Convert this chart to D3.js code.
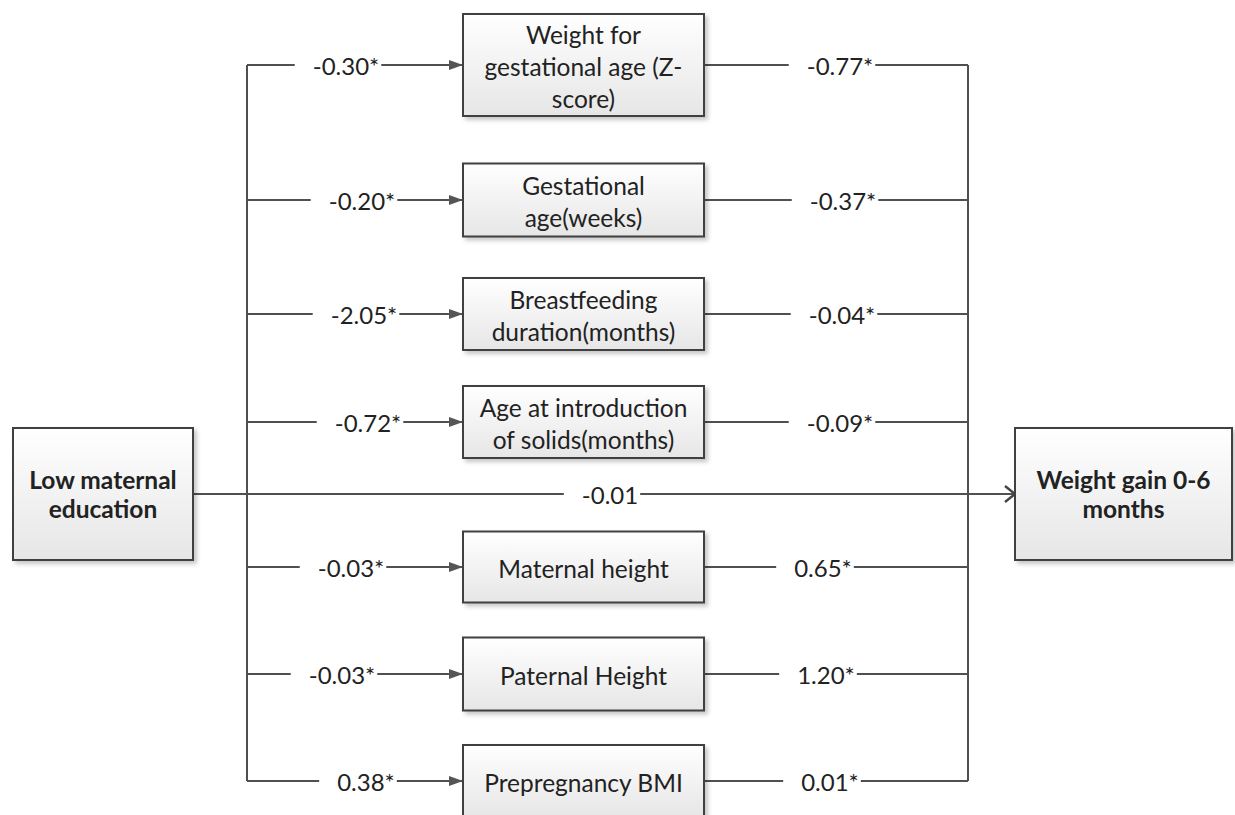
<!DOCTYPE html>
<html>
<head>
<meta charset="utf-8">
<script src="https://cdn.jsdelivr.net/npm/d3@7"></script>
<style>
  html, body { margin: 0; padding: 0; background: #fff; }
  svg { display: block; }
  text { font-family: Lato, "Open Sans", sans-serif; fill: #222; }
</style>
</head>
<body>
<svg id="chart" width="1235" height="815"></svg>
<script>
// ---------------- data ----------------
const exposure = ["Low maternal", "education"];
const outcome = ["Weight gain 0-6", "months"];
const mediators = [
  ["Weight for", "gestational age (Z-", "score)"],
  ["Gestational", "age(weeks)"],
  ["Breastfeeding", "duration(months)"],
  ["Age at introduction", "of solids(months)"],
  ["Maternal height"],
  ["Paternal Height"],
  ["Prepregnancy BMI"]
];
const pathA = [-0.30, -0.20, -2.05, -0.72, -0.03, -0.03, 0.38];
const pathB = [-0.77, -0.37, -0.04, -0.09, 0.65, 1.20, 0.01];
const pathASig = [true, true, true, true, true, true, true];
const pathBSig = [true, true, true, true, true, true, true];
const directEffect = -0.01;

// ---------------- layout ----------------
const rowY = [65, 200, 314, 422, 567, 674, 781];
const boxH = [102, 73, 72, 72, 71, 73, 72];
const labelAX = [346, 362, 364, 368, 351, 342, 366];
const labelBX = [840, 843, 842, 840, 823, 826, 830];
const directY = 494;
const directLabelX = 610;
const leftBus = 247, rightBus = 968;
const medX0 = 463, medX1 = 704;
const exBox = {x: 13, y: 428, w: 180, h: 132};
const outBox = {x: 1015, y: 428, w: 217, h: 132};

const fmt = (v, sig) => v.toFixed(2) + (sig ? "*" : "");

const svg = d3.select("#chart");
const defs = svg.append("defs");

const grad = defs.append("linearGradient").attr("id", "boxGrad")
  .attr("x1", 0).attr("y1", 0).attr("x2", 0).attr("y2", 1);
grad.append("stop").attr("offset", "0%").attr("stop-color", "#ffffff");
grad.append("stop").attr("offset", "100%").attr("stop-color", "#e6e6e6");

const flt = defs.append("filter").attr("id", "shadow")
  .attr("x", "-10%").attr("y", "-10%").attr("width", "130%").attr("height", "130%");
flt.append("feDropShadow").attr("dx", 3).attr("dy", 3).attr("stdDeviation", 2)
  .attr("flood-color", "#000").attr("flood-opacity", 0.22);

defs.append("marker").attr("id", "arrowFill")
  .attr("viewBox", "0 0 14 10").attr("refX", 14).attr("refY", 5)
  .attr("markerWidth", 14).attr("markerHeight", 10)
  .attr("markerUnits", "userSpaceOnUse").attr("orient", "auto")
  .append("path").attr("d", "M0,0 L14,5 L0,10 Z").attr("fill", "#555");

defs.append("marker").attr("id", "arrowOpen")
  .attr("viewBox", "0 0 12 20").attr("refX", 11).attr("refY", 10)
  .attr("markerWidth", 12).attr("markerHeight", 20)
  .attr("markerUnits", "userSpaceOnUse").attr("orient", "auto")
  .append("path").attr("d", "M1,2 L11,10 L1,18").attr("fill", "none")
  .attr("stroke", "#444").attr("stroke-width", 2.4);

const lineColor = "#505050";
const lw = 2;
const lines = svg.append("g");
const boxes = svg.append("g");
const labels = svg.append("g");

// buses
lines.append("line").attr("x1", leftBus).attr("x2", leftBus)
  .attr("y1", rowY[0]).attr("y2", rowY[rowY.length - 1])
  .attr("stroke", lineColor).attr("stroke-width", lw);
lines.append("line").attr("x1", rightBus).attr("x2", rightBus)
  .attr("y1", rowY[0]).attr("y2", rowY[rowY.length - 1])
  .attr("stroke", lineColor).attr("stroke-width", lw);

function box(g, x, y, w, h) {
  g.append("rect").attr("x", x).attr("y", y).attr("width", w).attr("height", h)
    .attr("fill", "url(#boxGrad)").attr("stroke", "#3f3f3f").attr("stroke-width", 2)
    .attr("filter", "url(#shadow)");
}

function multiText(g, linesArr, cx, cy, size, weight, lh) {
  const n = linesArr.length;
  linesArr.forEach((s, i) => {
    g.append("text").attr("x", cx).attr("y", cy + (i - (n - 1) / 2) * lh)
      .attr("text-anchor", "middle").attr("dominant-baseline", "central")
      .attr("font-size", size).attr("font-weight", weight).text(s);
  });
}

// labeled horizontal segment: line x0->x1 broken by label centered at lx
function labeledLine(x0, x1, y, lx, txt, marker) {
  const t = labels.append("text").attr("x", lx).attr("y", y)
    .attr("text-anchor", "middle").attr("dominant-baseline", "central")
    .attr("font-size", 24).text(txt);
  const w = t.node().getComputedTextLength();
  const ts = lx - w / 2, te = lx + w / 2;
  lines.append("line").attr("x1", x0).attr("x2", ts - 18).attr("y1", y).attr("y2", y)
    .attr("stroke", lineColor).attr("stroke-width", lw);
  const l2 = lines.append("line").attr("x1", te + 2).attr("x2", x1).attr("y1", y).attr("y2", y)
    .attr("stroke", lineColor).attr("stroke-width", lw);
  if (marker) l2.attr("marker-end", marker);
}

mediators.forEach((m, i) => {
  const y = rowY[i];
  labeledLine(leftBus, medX0, y, labelAX[i], fmt(pathA[i], pathASig[i]), "url(#arrowFill)");
  labeledLine(medX1, rightBus, y, labelBX[i], fmt(pathB[i], pathBSig[i]), null);
  box(boxes, medX0, y - boxH[i] / 2, medX1 - medX0, boxH[i]);
  multiText(boxes, m, (medX0 + medX1) / 2, y + 1, 24.5, 400, 32);
});

// direct effect
labeledLine(exBox.x + exBox.w, outBox.x, directY, directLabelX, fmt(directEffect, false), "url(#arrowOpen)");

box(boxes, exBox.x, exBox.y, exBox.w, exBox.h);
multiText(boxes, exposure, exBox.x + exBox.w / 2, exBox.y + exBox.h / 2, 24.5, 700, 29);
box(boxes, outBox.x, outBox.y, outBox.w, outBox.h);
multiText(boxes, outcome, outBox.x + outBox.w / 2, outBox.y + outBox.h / 2, 24.5, 700, 29);
</script>
</body>
</html>
